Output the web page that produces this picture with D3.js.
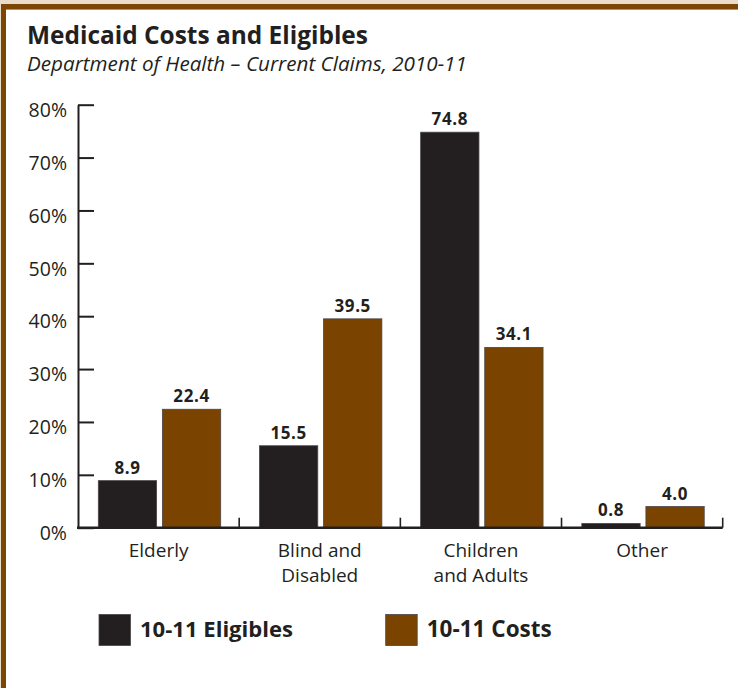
<!DOCTYPE html>
<html>
<head>
<meta charset="utf-8">
<script src="https://cdn.jsdelivr.net/npm/d3@7"></script>
<style>
  html, body { margin: 0; padding: 0; background: #e9dccb; }
  svg { display: block; }
  text { font-family: "Open Sans", "Noto Sans", sans-serif; fill: #231f20; }
</style>
</head>
<body>
<svg id="chart" width="738" height="688"></svg>
<script>
// Medicaid eligibles and costs by group, 2010-11 (percent of total)
const categories = ["Elderly", "Blind and Disabled", "Children and Adults", "Other"];
const categoryLines = [["Elderly"], ["Blind and", "Disabled"], ["Children", "and Adults"], ["Other"]];
const seriesNames = ["10-11 Eligibles", "10-11 Costs"];
const eligibles = [8.9, 15.5, 74.8, 0.8];
const costs = [22.4, 39.5, 34.1, 4.0];
const yTicks = [0, 10, 20, 30, 40, 50, 60, 70, 80];
const valueLabels = [["8.9", "22.4"], ["15.5", "39.5"], ["74.8", "34.1"], ["0.8", "4.0"]];

const colors = { "10-11 Eligibles": "#231f20", "10-11 Costs": "#7a4400" };
const ink = "#231f20";

const svg = d3.select("#chart");

// Page frame: parchment edge, brown rule on top and left, white panel
svg.append("rect").attr("x", 0).attr("y", 0).attr("width", 738).attr("height", 688).attr("fill", "#e9dccb");
svg.append("rect").attr("x", 1).attr("y", 4).attr("width", 737).attr("height", 684).attr("fill", "#7b4703");
svg.append("rect").attr("x", 6).attr("y", 9).attr("width", 732).attr("height", 1.2).attr("fill", "#b9925a");
svg.append("rect").attr("x", 6).attr("y", 10).attr("width", 732).attr("height", 678).attr("fill", "#ffffff");

// Shrink or grow a text element so it spans the given width
function fitWidth(sel, target) {
  const node = sel.node();
  let size = parseFloat(sel.attr("font-size"));
  for (let i = 0; i < 4; i++) {
    const w = node.getComputedTextLength();
    size = size * target / w;
    sel.attr("font-size", size.toFixed(2));
  }
  return sel;
}

// Titles
fitWidth(svg.append("text")
  .attr("x", 27).attr("y", 44)
  .attr("font-size", 22).attr("font-weight", 700)
  .text("Medicaid Costs and Eligibles"), 341);
fitWidth(svg.append("text")
  .attr("x", 27).attr("y", 70.5)
  .attr("font-size", 17).attr("font-style", "italic")
  .text("Department of Health \u2013 Current Claims, 2010-11"), 440);

// Scales
const plotLeft = 78, plotRight = 722.7, plotTop = 104.7, plotBottom = 527.7;
const y = d3.scaleLinear().domain([0, 80]).range([plotBottom, plotTop]);
const x0 = d3.scaleBand().domain(categories).range([plotLeft, plotRight]).padding(0);
const x1 = d3.scaleBand().domain(seriesNames).range([20.3, 142.7]).paddingInner(0.09).paddingOuter(0);

const rows = categories.map((c, i) => ({
  category: c,
  values: [
    { series: seriesNames[0], value: eligibles[i], label: valueLabels[i][0] },
    { series: seriesNames[1], value: costs[i], label: valueLabels[i][1] }
  ]
}));

// Y axis: ticks point into the plot, labels on the left
const yAxis = svg.append("g")
  .attr("transform", `translate(${plotLeft},0)`)
  .call(d3.axisLeft(y).tickValues(yTicks).tickFormat(d => d + "%")
    .tickSizeInner(-16).tickSizeOuter(0).tickPadding(11));
yAxis.select(".domain").attr("stroke", ink).attr("stroke-width", 2);
yAxis.selectAll(".tick line").attr("stroke", ink).attr("stroke-width", 2);
yAxis.selectAll(".tick text")
  .attr("font-family", "'Open Sans', sans-serif")
  .attr("font-size", 19.5).attr("fill", ink)
  .attr("y", 0).attr("dy", "0.6em");

// Bars
const groups = svg.append("g").selectAll("g")
  .data(rows).join("g")
  .attr("transform", d => `translate(${x0(d.category)},0)`);

groups.selectAll("rect")
  .data(d => d.values).join("rect")
  .attr("x", d => x1(d.series))
  .attr("y", d => y(d.value))
  .attr("width", x1.bandwidth())
  .attr("height", d => y(0) - y(d.value))
  .attr("fill", d => colors[d.series])
  .attr("stroke", "#4a4546").attr("stroke-width", 0.8);

groups.selectAll("text.value")
  .data(d => d.values).join("text")
  .attr("class", "value")
  .attr("x", d => x1(d.series) + x1.bandwidth() / 2)
  .attr("y", d => y(d.value) - 7)
  .attr("text-anchor", "middle")
  .attr("font-size", 17).attr("font-weight", 700)
  .attr("letter-spacing", 0.6)
  .text(d => d.label);

// X axis: baseline, category separators and two-line labels
const xAxis = svg.append("g")
  .attr("transform", `translate(0,${plotBottom})`)
  .call(d3.axisBottom(x0).tickSize(0).tickPadding(0).tickFormat(() => ""));
xAxis.select(".domain").attr("stroke", ink).attr("stroke-width", 2.4)
  .attr("d", `M${plotLeft - 1},0H${plotRight}`);

xAxis.selectAll(".sep")
  .data(categories).join("line")
  .attr("class", "sep")
  .attr("x1", d => x0(d) + x0.bandwidth()).attr("x2", d => x0(d) + x0.bandwidth())
  .attr("y1", 0).attr("y2", -10)
  .attr("stroke", ink).attr("stroke-width", 1.6);

xAxis.selectAll(".tick").each(function(d, i) {
  const t = d3.select(this).append("text")
    .attr("text-anchor", "middle")
    .attr("font-size", 19)
    .attr("fill", ink);
  categoryLines[i].forEach((line, k) => {
    t.append("tspan").attr("x", 0).attr("y", 29 + k * 25).text(line);
  });
});

// Legend
const legendX = [99, 385.7];
const legend = svg.append("g").selectAll("g")
  .data(seriesNames).join("g")
  .attr("transform", (d, i) => `translate(${legendX[i]},614.5)`);
legend.append("rect")
  .attr("width", 31.5).attr("height", 31)
  .attr("fill", d => colors[d])
  .attr("stroke", "#4a4546").attr("stroke-width", 0.8);
legend.append("text")
  .attr("x", 41).attr("y", 22.5)
  .attr("font-size", 21).attr("font-weight", 700)
  .text(d => d)
  .each(function(d, i) { fitWidth(d3.select(this), [153, 125][i]); });
</script>
</body>
</html>
